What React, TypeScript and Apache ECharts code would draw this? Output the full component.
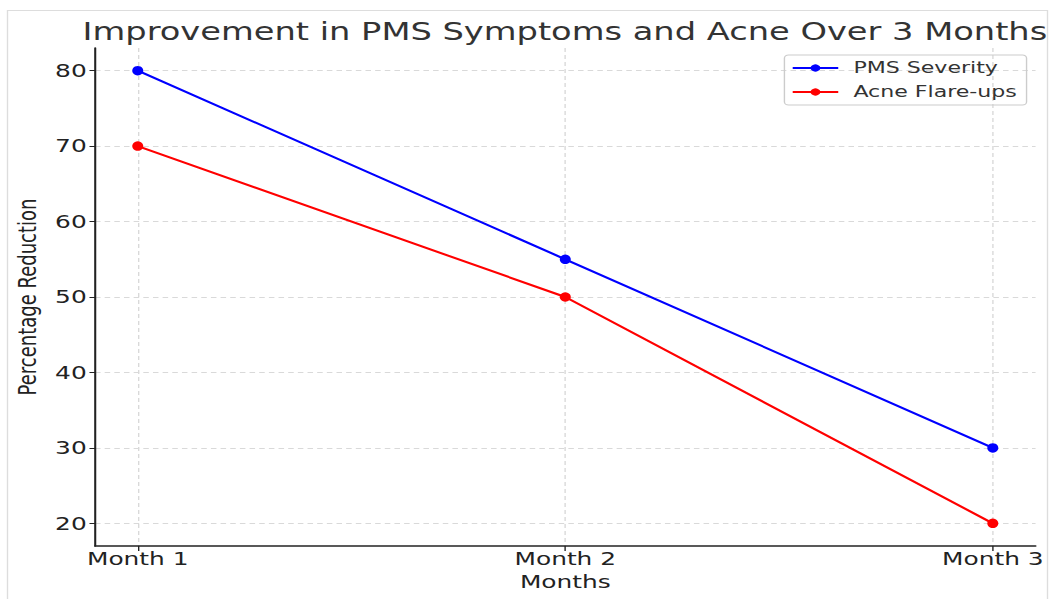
import React, { useEffect, useRef } from "react";
import * as echarts from "echarts";

const months = ["Month 1", "Month 2", "Month 3"];
const pmsSeverity = [80, 55, 30];
const acneFlareups = [70, 50, 20];
const yTicks = [20, 30, 40, 50, 60, 70, 80];

const FONT = "DejaVu Sans, Verdana, sans-serif";
const SX = 1.38; // horizontal stretch of the reference picture
const W = 1051;
const H = 599;
const W0 = W / SX;

export default function App() {
  const ref = useRef<HTMLDivElement>(null);
  useEffect(() => {
    if (!ref.current) return;
    const chart = echarts.init(ref.current, undefined, { renderer: "svg" });
    const xIdx = months.map((_, i) => i);
    chart.setOption({
      animation: false,
      backgroundColor: "#ffffff",
      title: {
        text: "Improvement in PMS Symptoms and Acne Over 3 Months",
        left: 558 / SX,
        textAlign: "center",
        top: 15,
        textStyle: { fontFamily: FONT, fontSize: 24.4, fontWeight: "normal", color: "#333333" },
      },
      graphic: [
        {
          type: "rect",
          shape: { x: 7.5 / SX, y: 10.5, width: 1040 / SX, height: 620 },
          style: { fill: "none", stroke: "#dddddd", lineWidth: 1 },
          silent: true,
          z: -1,
        },
      ],
      legend: {
        orient: "vertical",
        right: 25 / SX,
        top: 55,
        data: ["PMS Severity", "Acne Flare-ups"],
        itemWidth: 33,
        itemHeight: 9,
        itemGap: 8,
        padding: [5, 7, 5, 5],
        borderColor: "#cccccc",
        borderWidth: 1,
        borderRadius: 3,
        textStyle: { fontFamily: FONT, fontSize: 16, color: "#333333", padding: [0, 0, 0, 6] },
      },
      grid: { left: 95 / SX, right: 16 / SX, top: 48, bottom: 53, containLabel: false },
      xAxis: {
        type: "value",
        min: -0.1,
        max: 2.1,
        name: "Months",
        nameLocation: "middle",
        nameGap: 25,
        nameTextStyle: { fontFamily: FONT, fontSize: 18, color: "#222222" },
        axisLine: { show: true, onZero: false, lineStyle: { color: "#222222", width: 1.5 } },
        axisTick: { show: true, customValues: xIdx, length: 5, lineStyle: { color: "#222222" } },
        axisLabel: {
          customValues: xIdx,
          fontFamily: FONT,
          fontSize: 18,
          color: "#222222",
          margin: 4,
          formatter: (v: number) => months[Math.round(v)],
        },
        splitLine: { show: true, lineStyle: { color: "#d9d9d9", type: [4, 3], width: 1 } },
      },
      yAxis: {
        type: "value",
        min: 17,
        max: 83,
        name: "Percentage Reduction",
        nameLocation: "middle",
        nameGap: 35,
        nameTextStyle: { fontFamily: FONT, fontSize: 18, color: "#222222" },
        axisLine: { show: true, onZero: false, lineStyle: { color: "#222222", width: 1.5 } },
        axisTick: { show: true, customValues: yTicks, length: 4, lineStyle: { color: "#222222" } },
        axisLabel: { customValues: yTicks, fontFamily: FONT, fontSize: 18, color: "#222222", margin: 6 },
        splitLine: { show: true, lineStyle: { color: "#d9d9d9", type: [4, 3], width: 1 } },
      },
      series: [
        {
          name: "PMS Severity",
          type: "line",
          data: pmsSeverity.map((v, i) => [i, v]),
          color: "#0000ff",
          lineStyle: { width: 2 },
          symbol: "circle",
          symbolSize: [8, 9.5],
        },
        {
          name: "Acne Flare-ups",
          type: "line",
          data: acneFlareups.map((v, i) => [i, v]),
          color: "#ff0000",
          lineStyle: { width: 2 },
          symbol: "circle",
          symbolSize: [8, 9.5],
        },
      ],
    });
    return () => chart.dispose();
  }, []);
  return (
    <div style={{ position: "absolute", left: 0, top: 0, width: W, height: H, overflow: "hidden", background: "#fff" }}>
      <div
        ref={ref}
        style={{ width: W0, height: H, transform: `scaleX(${SX})`, transformOrigin: "0 0" }}
      />
    </div>
  );
}
